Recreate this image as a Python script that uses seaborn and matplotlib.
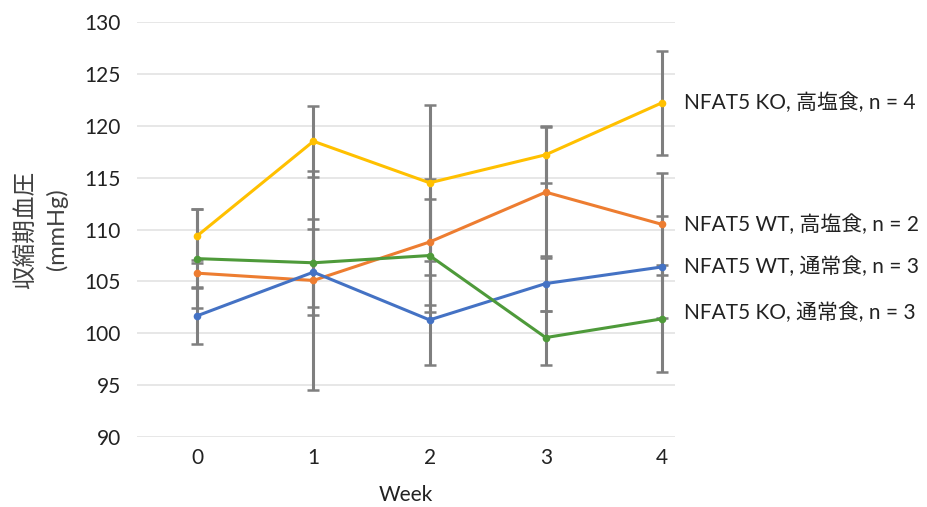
import pandas as pd
import matplotlib.pyplot as plt
import numpy as np
import seaborn as sns

weeks = [0, 1, 2, 3, 4]
series_names = ["NFAT5 KO, 高塩食, n = 4", "NFAT5 WT, 高塩食, n = 2",
                "NFAT5 WT, 通常食, n = 3", "NFAT5 KO, 通常食, n = 3"]
ko_high = [109.4, 118.5, 114.5, 117.2, 122.2]
wt_high = [105.8, 105.1, 108.8, 113.6, 110.5]
wt_norm = [101.7, 105.9, 101.3, 104.8, 106.4]
ko_norm = [107.2, 106.8, 107.5, 99.6, 101.4]
ko_high_err = [2.6, 3.4, 7.5, 2.75, 5.0]
wt_high_err = [1.3, 10.5, 6.05, 6.3, 4.9]
wt_norm_err = [2.7, 4.15, 4.35, 2.65, 4.9]
ko_norm_err = [4.8, 4.25, 5.4, 2.6, 5.15]
colors = ["#FFC000", "#ED7D31", "#4472C4", "#4E9A3A"]

values = [ko_high, wt_high, wt_norm, ko_norm]
errors = [ko_high_err, wt_high_err, wt_norm_err, ko_norm_err]
label_nudge = [0, 0, 0, 0.55]

rows = []
for name, vals in zip(series_names, values):
    for w, v in zip(weeks, vals):
        rows.append({"Week": w, "bp": v, "group": name})
df = pd.DataFrame(rows)

sns.set_style("white")
plt.rcParams['font.family'] = ['Lato', 'Noto Sans CJK JP', 'DejaVu Sans']

fig = plt.figure(figsize=(9.28, 5.07), dpi=100)
ax = fig.add_axes([0.148, 0.1375, 0.579, 0.8195])

for vals, err in zip(values, errors):
    ax.errorbar(weeks, vals, yerr=err, fmt="none", ecolor="#7f7f7f",
                elinewidth=2.2, capsize=4.5, capthick=1.8, zorder=2)

sns.lineplot(data=df, x="Week", y="bp", hue="group", palette=colors,
             hue_order=series_names, marker="o", markersize=5.5,
             markeredgewidth=0, linewidth=2.2, ax=ax, legend=False, zorder=3)

for name, vals, c, dy in zip(series_names, values, colors, label_nudge):
    ax.annotate(name, xy=(weeks[-1], vals[-1] + dy), xytext=(16, 0),
                textcoords="offset points", va="center", ha="left",
                fontsize=15, color="#222222", annotation_clip=False)

ax.set_xlim(-0.516, 4.11)
ax.set_ylim(90, 130)
ax.set_yticks(np.arange(90, 131, 5))
ax.set_xticks(weeks)
ax.yaxis.grid(True, color="#e3e3e3", linewidth=1.2)
ax.set_axisbelow(True)
for s in ax.spines.values():
    s.set_visible(False)
ax.tick_params(axis="both", length=0, labelsize=15, colors="#222222")
ax.tick_params(axis="y", pad=12)
ax.tick_params(axis="x", pad=8)
ax.set_xlabel("Week", fontsize=15, color="#222222", labelpad=12)
ax.set_ylabel("収縮期血圧\n(mmHg)", fontsize=17, color="#404040", labelpad=12,
              linespacing=1.45)

fig.savefig("out.png", dpi=100)
